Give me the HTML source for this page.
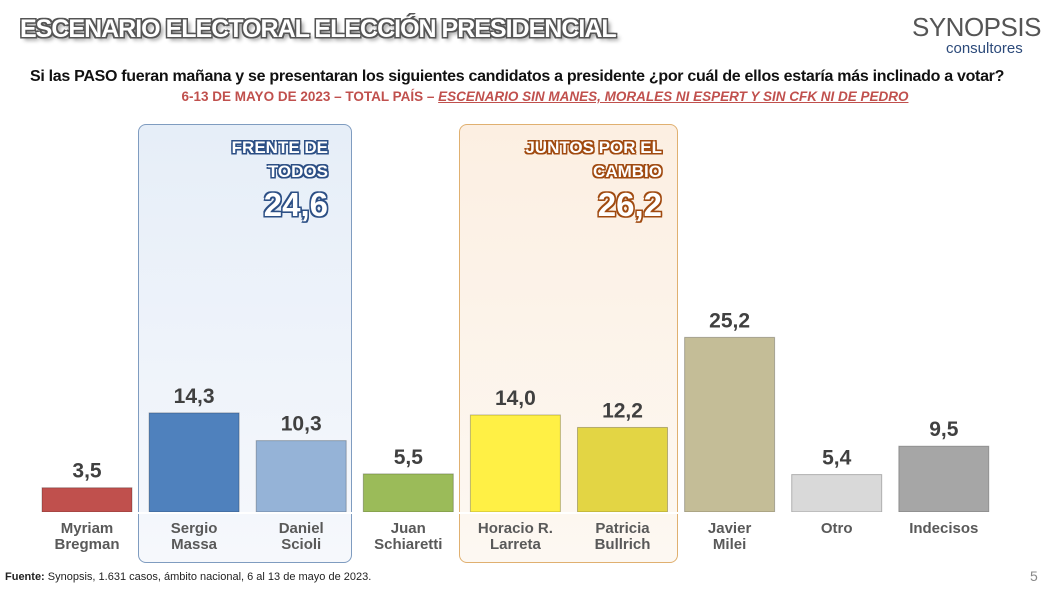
<!DOCTYPE html>
<html><head><meta charset="utf-8"><style>
body{margin:0;width:1055px;height:592px;background:#fff;position:relative;overflow:hidden;font-family:"Liberation Sans",sans-serif}
.t{position:absolute;white-space:nowrap}
</style></head><body>
<div class="t" style="left:20px;top:15px;font-size:25px;font-weight:bold;color:#fff;letter-spacing:-1px;text-shadow:-1.5px -1.5px 0 #555,1.5px -1.5px 0 #555,-1.5px 1.5px 0 #555,1.5px 1.5px 0 #555,3px 3px 4px #888">ESCENARIO ELECTORAL ELECCIÓN PRESIDENCIAL</div>
<div class="t" style="left:912px;top:12px;font-size:26px;color:#555;letter-spacing:-0.5px">SYNOPSIS</div>
<div class="t" style="left:946px;top:40px;font-size:15px;color:#2c4a7a">consultores</div>
<div class="t" style="left:30px;top:68px;font-size:16px;font-weight:bold;color:#111;letter-spacing:-0.3px">Si las PASO fueran mañana y se presentaran los siguientes candidatos a presidente ¿por cuál de ellos estaría más inclinado a votar?</div>
<div class="t" style="left:0;width:1090px;text-align:center;top:89px;font-size:13.5px;font-weight:bold;color:#c0504d">6-13 DE MAYO DE 2023 – TOTAL PAÍS – <i><u>ESCENARIO SIN MANES, MORALES NI ESPERT Y SIN CFK NI DE PEDRO</u></i></div>
<div style="position:absolute;left:138px;top:124px;width:212px;height:437px;border:1px solid #7f9cc0;border-radius:8px;background:linear-gradient(#e6eef8,#f6f8fc)"></div>
<div style="position:absolute;left:459px;top:124px;width:217px;height:437px;border:1px solid #e0b070;border-radius:8px;background:linear-gradient(#fcefe2,#fdf8f2)"></div>
<div class="t" style="right:727px;top:136px;text-align:right;font-size:17px;font-weight:bold;color:#fff;line-height:24px;text-shadow:-1.5px -1.5px 0 #2c4f85,1.5px -1.5px 0 #2c4f85,-1.5px 1.5px 0 #2c4f85,1.5px 1.5px 0 #2c4f85,0 1.5px 0 #2c4f85,1.5px 0 0 #2c4f85">FRENTE DE<br>TODOS<br><span style="font-size:33px;line-height:42px">24,6</span></div>
<div class="t" style="right:393px;top:136px;text-align:right;font-size:17px;font-weight:bold;color:#fff;line-height:24px;text-shadow:-1.5px -1.5px 0 #a04a10,1.5px -1.5px 0 #a04a10,-1.5px 1.5px 0 #a04a10,1.5px 1.5px 0 #a04a10,0 1.5px 0 #a04a10,1.5px 0 0 #a04a10">JUNTOS POR EL<br>CAMBIO<br><span style="font-size:33px;line-height:42px">26,2</span></div>
<svg id="c" width="1055" height="592" style="position:absolute;left:0;top:0"></svg>
<div class="t" style="left:5px;top:571px;font-size:11px;color:#222"><b>Fuente:</b> Synopsis, 1.631 casos, ámbito nacional, 6 al 13 de mayo de 2023.</div>
<div class="t" style="left:1030px;top:568px;font-size:14px;color:#888">5</div>
<script>
const names=[["Myriam","Bregman"],["Sergio","Massa"],["Daniel","Scioli"],["Juan","Schiaretti"],["Horacio R.","Larreta"],["Patricia","Bullrich"],["Javier","Milei"],["Otro",""],["Indecisos",""]];
const values=[3.5,14.3,10.3,5.5,14.0,12.2,25.2,5.4,9.5];
const colors=["#c0504d","#4f81bd","#95b3d7","#9bbb59","#fff045","#e3d544","#c4bd97","#d9d9d9","#a6a6a6"];
const svg=document.getElementById('c');const NS="http://www.w3.org/2000/svg";
const base=512,scale=6.93;
const xs=i=>42+i*107.1, ys=v=>base-v*scale;
values.forEach((v,i)=>{
 const r=document.createElementNS(NS,'rect');
 
 
 r.setAttribute('x',xs(i));r.setAttribute('y',ys(v));r.setAttribute('width',90);r.setAttribute('height',base-ys(v));
 r.setAttribute('fill',colors[i]);r.setAttribute('stroke','rgba(0,0,0,0.25)');svg.appendChild(r);
 const t=document.createElementNS(NS,'text');
 
 
 t.setAttribute('x',xs(i)+45);t.setAttribute('y',ys(v)-10);t.setAttribute('text-anchor','middle');
 t.setAttribute('font-size','21');t.setAttribute('font-weight','bold');t.setAttribute('fill','#404040');t.setAttribute('font-family','Liberation Sans');
 t.textContent=v.toFixed(1).replace('.',',');svg.appendChild(t);
 names[i].forEach((n,j)=>{if(!n)return;
  const l=document.createElementNS(NS,'text');
  
  
  l.setAttribute('x',xs(i)+45);l.setAttribute('y',533+j*16);l.setAttribute('text-anchor','middle');
  l.setAttribute('font-size','15');l.setAttribute('font-weight','bold');l.setAttribute('fill','#595959');l.setAttribute('font-family','Liberation Sans');
  l.textContent=n;svg.appendChild(l);});
});
const bl=document.createElementNS(NS,'line');


bl.setAttribute('x1',30);bl.setAttribute('x2',1000);bl.setAttribute('y1',base+1);bl.setAttribute('y2',base+1);bl.setAttribute('stroke','#fff');bl.setAttribute('stroke-width',2);svg.appendChild(bl);
</script>
</body></html>
